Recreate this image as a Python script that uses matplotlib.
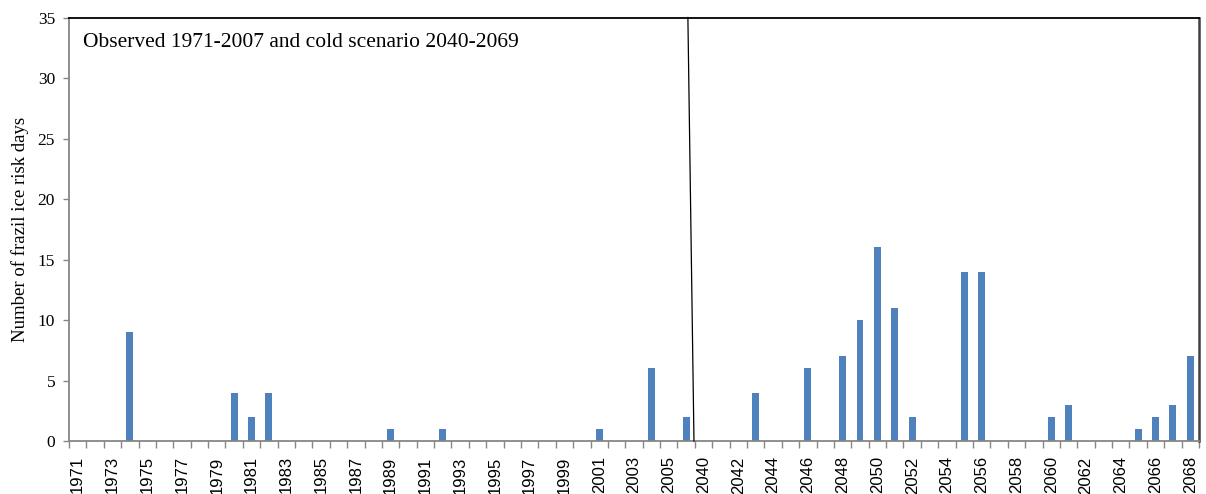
import matplotlib
matplotlib.use("Agg")
import matplotlib.pyplot as plt
import numpy as np

years_obs = list(range(1971, 2007))
years_scn = list(range(2040, 2069))
categories = [str(y) for y in years_obs + years_scn]

values_dict = {
    1974: 9, 1980: 4, 1981: 2, 1982: 4, 1989: 1, 1992: 1, 2001: 1, 2004: 6, 2006: 2,
    2043: 4, 2046: 6, 2048: 7, 2049: 10, 2050: 16, 2051: 11, 2052: 2, 2055: 14,
    2056: 14, 2060: 2, 2061: 3, 2065: 1, 2066: 2, 2067: 3, 2068: 7,
}
values = [values_dict.get(int(c), 0) for c in categories]

yticks = [0, 5, 10, 15, 20, 25, 30, 35]
sep_x = [35.1, 35.45]
sep_y = [35, 0]

fig = plt.figure(figsize=(12.06, 4.94), dpi=100)
ax = fig.add_axes([69/1206, 1-441/494, (1199-69)/1206, (441-17.5)/494])

x = np.arange(len(categories))
ax.bar(x, values, width=0.4, color="#4F81BD", zorder=2)
ax.plot(sep_x, sep_y, color="black", lw=0.9, zorder=3, clip_on=False)

ax.set_xlim(-0.5, len(categories) - 0.5)
ax.set_ylim(0, 35)

ax.set_yticks(yticks)
ax.set_yticklabels([str(t) for t in yticks], fontfamily="Liberation Serif", fontsize=12.5)
ax.tick_params(axis="y", direction="out", length=4, color="#868686", width=1, pad=6)

ax.set_xticks(x[::2])
ax.set_xticklabels(categories[::2], rotation=90, fontfamily="Liberation Sans", fontsize=12)
ax.tick_params(axis="x", length=0, pad=11)
ax.set_xticks(np.arange(-0.5, len(categories), 1), minor=True)
ax.tick_params(axis="x", which="minor", direction="out", length=5, color="#868686", width=1)

for s in ["left", "bottom"]:
    ax.spines[s].set_color("#868686")
    ax.spines[s].set_linewidth(1.3)
ax.spines["top"].set_color("black")
ax.spines["top"].set_linewidth(1.3)
ax.spines["right"].set_color("#404040")
ax.spines["right"].set_linewidth(1.8)

ax.set_ylabel("Number of frazil ice risk days", fontfamily="Liberation Serif", fontsize=13.5, labelpad=6)

ax.text(0.012, 0.94, "Observed 1971-2007 and cold scenario 2040-2069", transform=ax.transAxes,
        fontfamily="Liberation Serif", fontsize=15.5, va="center", ha="left")

fig.savefig("out.png", dpi=100)
